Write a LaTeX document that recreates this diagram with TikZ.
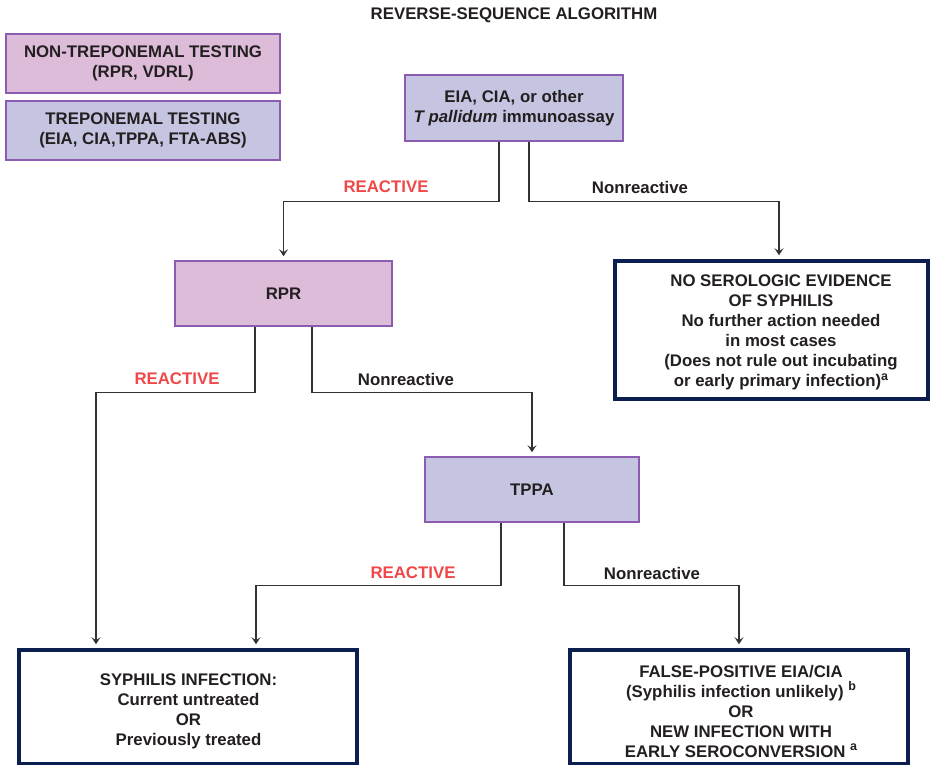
\documentclass[tikz,border=0pt]{standalone}
\usepackage{fontspec}
\setmainfont{Liberation Sans}
\usetikzlibrary{arrows.meta,positioning}
\definecolor{pinkfill}{RGB}{220,188,216}
\definecolor{lavfill}{RGB}{197,197,226}
\definecolor{purpleborder}{RGB}{140,92,178}
\definecolor{navyborder}{RGB}{12,30,80}
\definecolor{redlab}{RGB}{240,72,72}
\definecolor{connector}{RGB}{50,50,50}
\definecolor{txt}{RGB}{35,31,32}
\newcommand{\supmark}[1]{\raisebox{6.5pt}{\fontsize{12.5}{12.5}\selectfont #1}}
\begin{document}
\begin{tikzpicture}[x=1pt,y=1pt,
  every node/.style={font=\fontsize{16.8}{20}\selectfont\bfseries, text=txt, align=center, inner sep=0pt},
  testbox/.style={draw=purpleborder, line width=1.6pt, minimum width=#1},
  pinkbox/.style={testbox=#1, fill=pinkfill},
  lavbox/.style={testbox=#1, fill=lavfill},
  resbox/.style={draw=navyborder, line width=3.5pt, fill=white, minimum width=#1},
  conn/.style={draw=connector, line width=1.3pt},
  arr/.style={conn, -{Stealth[length=7pt,width=9pt,inset=3pt]}, shorten >=4pt},
  reactlab/.style={text=redlab},
  nonlab/.style={text=txt}
]
\useasboundingbox (0,0) rectangle (932,-766);

\node (title) at (514,-15) {REVERSE-SEQUENCE ALGORITHM};

\node[pinkbox=274, minimum height=59] (nontrep) at (143,-63.5) {NON-TREPONEMAL TESTING\\(RPR, VDRL)};
\node[lavbox=274, minimum height=59] (trep) at (143,-130.5) {TREPONEMAL TESTING\\(EIA, CIA,TPPA, FTA-ABS)};

\node[lavbox=218, minimum height=66] (eia) at (514,-108) {EIA, CIA, or other\\\textit{T pallidum} immunoassay};
\node[pinkbox=217, minimum height=65] (rpr) at (283.5,-293.5) {RPR};
\node[resbox=313, minimum height=138] (nosero) at (771.5,-330) {};
\node (noserotext) at (781,-332.5) {NO SEROLOGIC EVIDENCE\\OF SYPHILIS\\No further action needed\\in most cases\\(Does not rule out incubating\\or early primary infection)\supmark{a}};
\node[lavbox=214, minimum height=65] (tppa) at (532,-489.5) {TPPA};
\node[resbox=338, minimum height=113.5] (syph) at (188,-706.75) {};
\node (syphtext) at (188.5,-711) {SYPHILIS INFECTION:\\Current untreated\\OR\\Previously treated};
\node[resbox=338, minimum height=113.5] (falsep) at (739,-706.75) {};
\node (falseptext) at (741,-711) {FALSE-POSITIVE EIA/CIA\\(Syphilis infection unlikely) \supmark{b}\\OR\\NEW INFECTION WITH\\EARLY SEROCONVERSION \supmark{a}};

% connectors
\draw[arr] ([xshift=-15]eia.south) -- ++(0,-59.5) -| (rpr.north);
\draw[arr] ([xshift=15]eia.south) -- ++(0,-59.5) -| ([xshift=7.5]nosero.north);
\draw[arr] ([xshift=-28.5]rpr.south) -- ++(0,-66) -| ([xshift=-92]syph.north);
\draw[arr] ([xshift=28.5]rpr.south) -- ++(0,-66) -| (tppa.north);
\draw[arr] ([xshift=-31]tppa.south) -- ++(0,-63) -| ([xshift=68]syph.north);
\draw[arr] ([xshift=32]tppa.south) -- ++(0,-63) -| (falsep.north);

% labels
\node[reactlab] (l1) at (386,-187) {REACTIVE};
\node[nonlab] (l2) at (640,-187) {Nonreactive};
\node[reactlab] (l3) at (177,-379) {REACTIVE};
\node[nonlab] (l4) at (406,-379) {Nonreactive};
\node[reactlab] (l5) at (413,-573) {REACTIVE};
\node[nonlab] (l6) at (652,-573) {Nonreactive};
\end{tikzpicture}
\end{document}
